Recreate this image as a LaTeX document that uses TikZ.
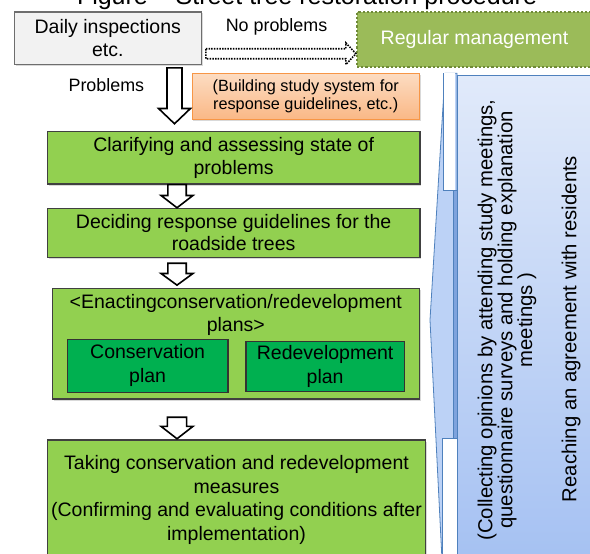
\documentclass[tikz,border=0pt]{standalone}
\usepackage{fontspec}
\setmainfont{Liberation Sans}
\usetikzlibrary{calc,shadows}
\definecolor{boxgreen}{HTML}{92D050}
\definecolor{plangreen}{HTML}{00B050}
\definecolor{olive}{HTML}{9BBB59}
\definecolor{olivedark}{HTML}{6F8A38}
\definecolor{orangeline}{HTML}{F79646}
\definecolor{orangetop}{HTML}{FCDCC2}
\definecolor{orangebot}{HTML}{FAB886}
\definecolor{calloutline}{HTML}{4F81BD}
\definecolor{callouttop}{HTML}{E1EAFA}
\definecolor{calloutbot}{HTML}{A5C1F2}
\definecolor{calloutmid}{HTML}{BCD2F6}
\definecolor{calloutstrip}{HTML}{7EA3DD}
\definecolor{grayfill}{HTML}{F2F2F2}
\definecolor{grayline}{HTML}{6E6E6E}
\tikzset{
  txt/.style={font=\fontsize{19.5}{22.4}\selectfont, align=center, inner sep=0pt},
  lbl/.style={font=\fontsize{17.9}{21}\selectfont, inner sep=0pt, anchor=base},
  softshadow/.style={drop shadow={shadow xshift=1.2pt, shadow yshift=-1.5pt, opacity=0.3}},
  graybox/.style={txt, draw=grayline, line width=1.6pt, fill=grayfill, softshadow},
  greenbox/.style={txt, draw=black!75, line width=1.1pt, fill=boxgreen, softshadow},
  planbox/.style={txt, draw=black!80, line width=1.1pt, fill=plangreen},
  regbox/.style={txt, text=white, fill=olive, draw=olivedark, line width=2.2pt, dash pattern=on 2.2pt off 2pt},
  orangebox/.style={align=center, inner sep=0pt, font=\fontsize{16.25}{18.4}\selectfont,
     draw=orangeline, line width=0.9pt, top color=orangetop, bottom color=orangebot, softshadow},
  callbody/.style={draw=calloutline, line width=0.8pt, top color=callouttop, bottom color=calloutbot, inner sep=0pt},
  calltxt/.style={rotate=90, align=center, inner sep=0pt, font=\fontsize{20.3}{18.8}\selectfont},
  barrow/.style={draw=black, line width=1.6pt, fill=white, line join=miter},
  darrow/.style={draw=black, line width=1.6pt, dash pattern=on 1.5pt off 1.2pt, line join=miter},
}
\newcommand\blockdown[7]{%
  \draw[barrow] ($(#1.south -| #3)+(-#6,#4)$) -- ($(#1.south -| #3)+(#6,#4)$)
   -- ($(#2.north -| #3)+(#6,-#5-#7)$) -- ($(#2.north -| #3)+(16,-#5-#7)$)
   -- ($(#2.north -| #3)+(0,-#5)$) -- ($(#2.north -| #3)+(-16,-#5-#7)$)
   -- ($(#2.north -| #3)+(-#6,-#5-#7)$) -- cycle;}
\begin{document}
\begin{tikzpicture}[x=1pt,y=-1pt]
\useasboundingbox (0,0) rectangle (590,554);

% title (cut off at the top, as in the reference)
\node[font=\fontsize{25}{30}\selectfont, anchor=base, inner sep=0pt] (title) at (307,4.5)
  {Figure – Street tree restoration procedure};

% right callout
\filldraw[fill=calloutmid, draw=calloutline, line width=0.8pt]
  (445,73.3) -- (430,320) -- (442,560) -- (457,560) -- (457,73.3) -- cycle;
\fill[white] (443.3,73.3) rectangle (455,190);
\draw[calloutline, line width=0.8pt] (443.3,73.3) -- (443.3,190) -- (455,190);
\fill[white] (442.7,438.3) rectangle (456.7,560);
\draw[calloutline, line width=0.8pt] (456.7,438.3) -- (442.7,438.3) -- (442.7,560);
\filldraw[fill=calloutstrip, draw=calloutline, line width=0.6pt] (453.5,190) rectangle (457,438.3);
\node[callbody, minimum width=143pt, minimum height=486pt] (call) at (528.5,318) {};
\node[calltxt] (calltext) at (507,320)
  {(Collecting opinions by attending study meetings,\\
   questionnaire surveys and holding explanation\\
   meetings )};
\node[calltxt] (agree) at (571,329) {Reaching an agreement with residents};

% boxes
\node[graybox, minimum width=187pt, minimum height=52.6pt] (daily) at (107.8,38)
  {Daily inspections\\etc.};
\node[regbox, minimum width=235pt, minimum height=54.4pt] (regular) at (474.5,39.5)
  {Regular management};
\node[lbl] (noprob) at (276.5,31.7) {No problems};
\node[lbl] (prob) at (106.4,91.7) {Problems};
\node[orangebox, minimum width=227.5pt, minimum height=46pt] (study) at (305.75,96.3)
  {(Building study system for\\response guidelines, etc.)};

\node[greenbox, minimum width=372.7pt, minimum height=52.3pt] (g1) at (233.65,157.85)
  {Clarifying and assessing state of\\problems};
\node[greenbox, minimum width=372.7pt, minimum height=49pt] (g2) at (233.65,232.8)
  {Deciding response guidelines for the\\roadside trees};
\node[greenbox, minimum width=367pt, minimum height=110.7pt] (g3) at (235.8,343.65) {};
\node[txt, anchor=north, font=\fontsize{19.5}{23.4}\selectfont] (g3t) at (235.8,294)
  {<Enactingconservation/redevelopment\\plans>};
\node[planbox, minimum width=160.7pt, minimum height=53pt, font=\fontsize{19.5}{24}\selectfont] (cons) at (147.65,365.8)
  {Conservation\\plan};
\node[planbox, minimum width=158.3pt, minimum height=49.6pt, font=\fontsize{19.5}{24}\selectfont] (redev) at (325.15,366.5)
  {Redevelopment\\plan};
\node[greenbox, minimum width=378.4pt, minimum height=120pt, font=\fontsize{19.5}{23.5}\selectfont] (g4) at (236.5,500)
  {Taking conservation and redevelopment\\measures\\(Confirming and evaluating conditions after\\implementation)};

% connectors
\coordinate (ax1) at (174.5,0);
\coordinate (ax) at (177,0);
\coordinate (ay) at (0,53.7);
\blockdown{daily}{g1}{ax1}{2.7}{7.4}{7.5}{15.3}
\blockdown{g1}{g2}{ax}{0}{0}{9.2}{12.3}
\blockdown{g2}{g3}{ax}{5.4}{2.6}{9.2}{11.7}
\blockdown{g3}{g4}{ax}{17.7}{0.7}{9.6}{12.4}
\draw[darrow] ($(daily.east |- ay)+(3.7,-5)$) -- ($(regular.west |- ay)+(-10,-5)$)
  -- ($(regular.west |- ay)+(-10,-10.8)$) -- ($(regular.west |- ay)+(0,0)$)
  -- ($(regular.west |- ay)+(-10,10.8)$) -- ($(regular.west |- ay)+(-10,5)$)
  -- ($(daily.east |- ay)+(3.7,5)$) -- cycle;
\end{tikzpicture}
\end{document}
